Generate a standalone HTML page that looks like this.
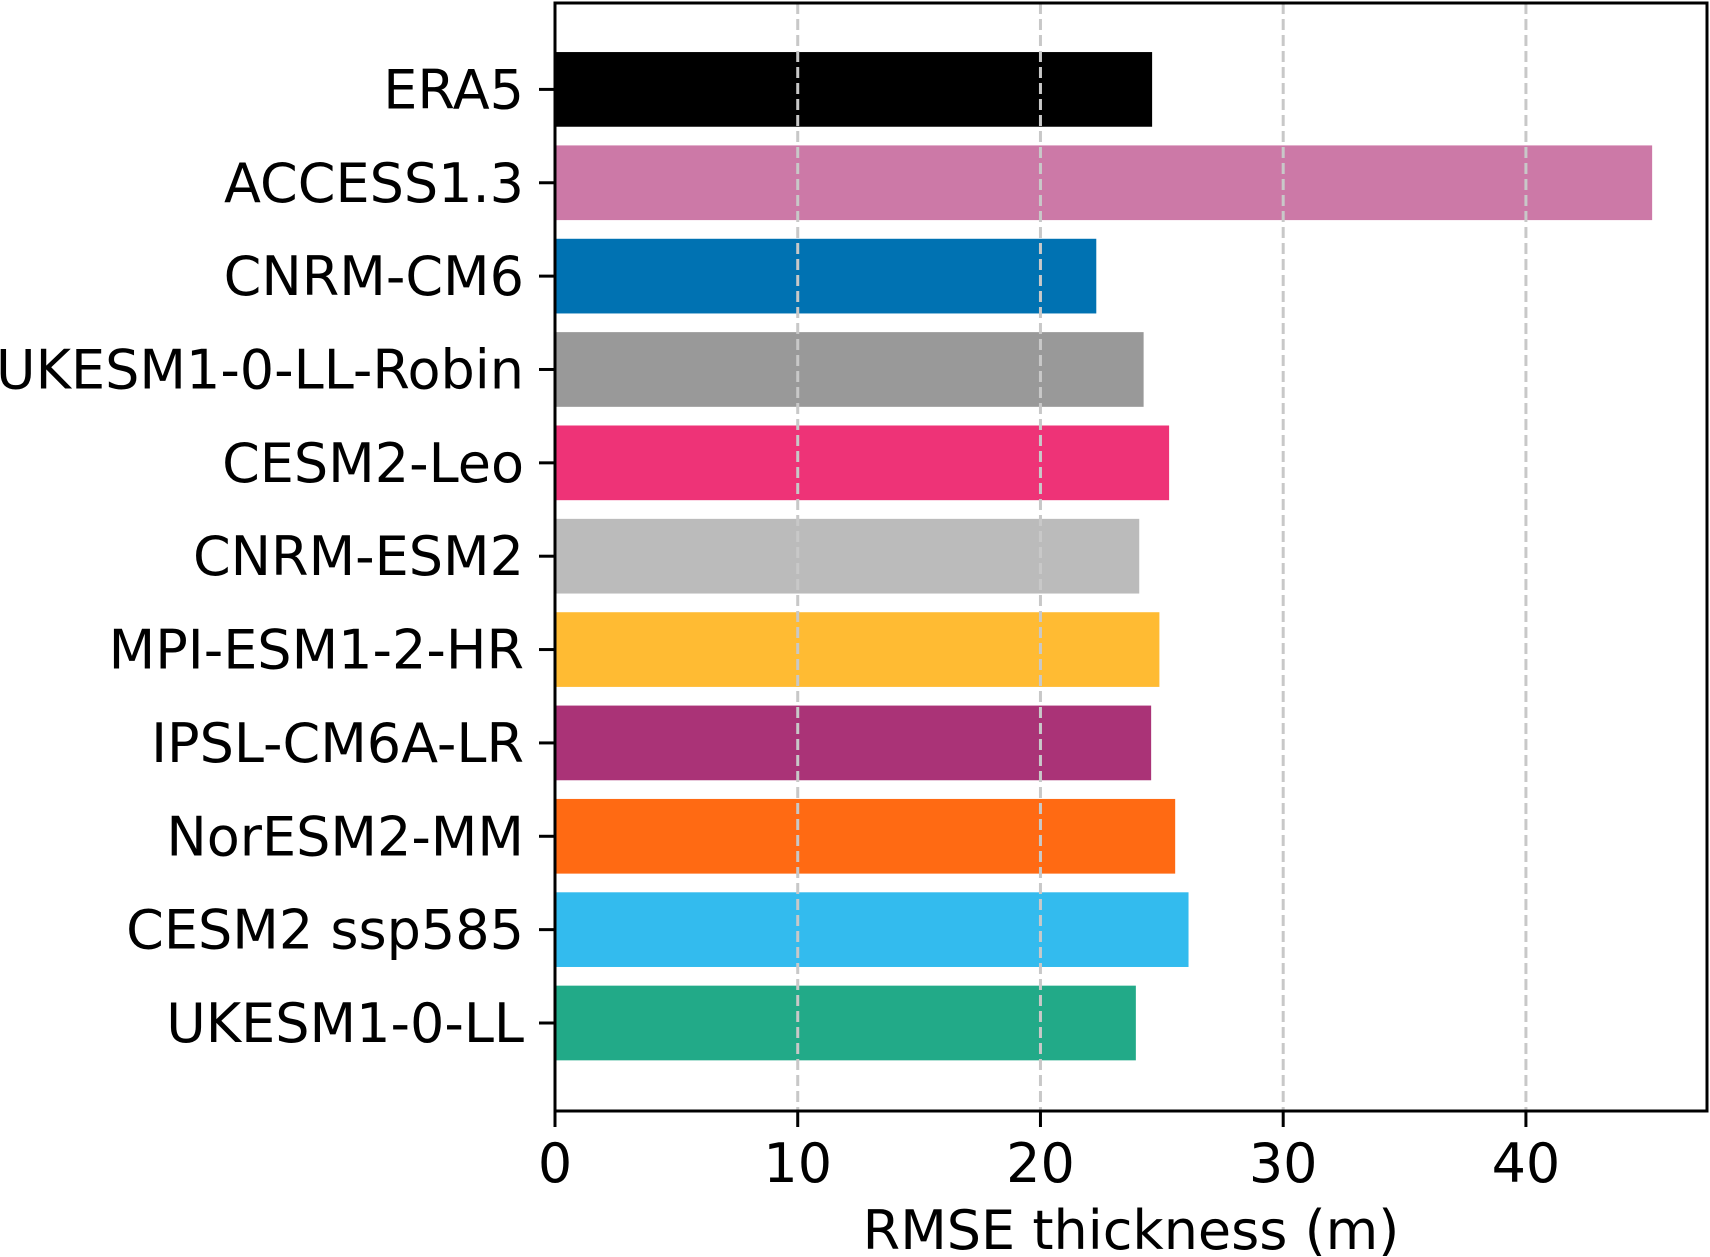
<!DOCTYPE html>
<html><head><meta charset="utf-8"><style>
html,body{margin:0;padding:0;background:#fff}
svg{display:block;font-family:"DejaVu Sans","Liberation Sans",sans-serif}
</style></head><body>
<svg id="chart" width="1710" height="1257" viewBox="0 0 1710 1257" xmlns="http://www.w3.org/2000/svg">
<g id="bars"></g><g id="grid"></g><g id="axes"></g>
</svg>
<script>
const categories = ["ERA5","ACCESS1.3","CNRM-CM6","UKESM1-0-LL-Robin","CESM2-Leo","CNRM-ESM2","MPI-ESM1-2-HR","IPSL-CM6A-LR","NorESM2-MM","CESM2 ssp585","UKESM1-0-LL"];
const values = [24.6,45.2,22.3,24.25,25.3,24.07,24.9,24.56,25.55,26.1,23.93];
const colors = ["#000000","#cc79a7","#0072b2","#999999","#ee3377","#bbbbbb","#ffbb33","#aa3377","#ff6a13","#33bbee","#22aa88"];
const xTicks = [0,10,20,30,40];

const NS="http://www.w3.org/2000/svg";
const L=555,R=1707,T=3,B=1111;
const xMax=Math.max(...values)*1.05;
const n=categories.length;
const y0=89.4,y1=1023;
const unit=(y1-y0)/(n-1);
const x=v=>L+(v/xMax)*(R-L);
const y=i=>y0+i*unit;
function mk(tag,attrs,parent,text){const e=document.createElementNS(NS,tag);for(const k in attrs)e.setAttribute(k,attrs[k]);if(text!==undefined)e.textContent=text;parent.appendChild(e);return e;}
const grid=document.getElementById('grid'),bars=document.getElementById('bars'),axes=document.getElementById('axes');
xTicks.forEach(t=>{
  if(t>0){const g=mk('line',{x1:x(t),x2:x(t),y1:T,y2:B,stroke:'#c8c8c8','stroke-width':3,'stroke-dasharray':'11 5'},grid);
  
  }
});
categories.forEach((c,i)=>{
  const r=mk('rect',{x:x(0),y:y(i)-0.4*unit,width:x(values[i])-x(0),height:0.8*unit,fill:colors[i]},bars);
  
  
  const tk=mk('line',{x1:L-16,x2:L,y1:y(i),y2:y(i),stroke:'#000','stroke-width':3},axes);
  
  
  const lb=mk('text',{x:L-31,y:y(i)+19,'text-anchor':'end','font-size':54,fill:'#000'},axes,c);
  
  
});
xTicks.forEach(t=>{
  const tk=mk('line',{x1:x(t),x2:x(t),y1:B,y2:B+16,stroke:'#000','stroke-width':3},axes);
  
  
  const lb=mk('text',{x:x(t),y:1182,'text-anchor':'middle','font-size':54,fill:'#000'},axes,String(t));
  
  
});
const fr=mk('rect',{x:L,y:T,width:R-L,height:B-T,fill:'none',stroke:'#000','stroke-width':3},axes);


const xt=mk('text',{x:(L+R)/2,y:1249,'text-anchor':'middle','font-size':54,fill:'#000'},axes,'RMSE thickness (m)');


</script>
</body></html>
